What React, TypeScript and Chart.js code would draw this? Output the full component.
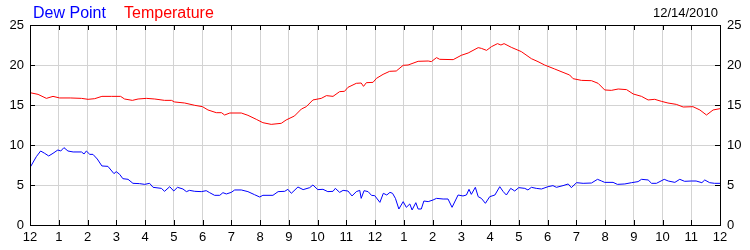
import React, { useEffect, useRef } from "react";
import { Chart, registerables } from "chart.js";

Chart.register(...registerables);

const hourLabels = ["12","1","2","3","4","5","6","7","8","9","10","11","12","1","2","3","4","5","6","7","8","9","10","11","12"];
const yTicks = [0, 5, 10, 15, 20, 25];
const dateText = "12/14/2010";
const dewName = "Dew Point";
const tempName = "Temperature";

const tempHours = [0,0.28,0.57,0.8,1.03,1.4,1.79,2.02,2.25,2.5,2.83,3.15,3.29,3.56,3.76,4.05,4.34,4.68,4.92,5.03,5.38,5.73,6,6.19,6.48,6.66,6.77,6.95,7.35,7.58,7.87,8.1,8.39,8.74,8.91,9.2,9.44,9.61,9.84,10.13,10.31,10.54,10.77,10.94,11.06,11.35,11.52,11.6,11.7,11.93,12.05,12.28,12.51,12.74,12.98,13.15,13.5,13.85,13.96,14.14,14.25,14.72,15,15.24,15.59,15.7,15.88,16.05,16.26,16.38,16.49,16.74,17.09,17.44,17.67,17.9,18.25,18.54,18.77,18.89,19.18,19.53,19.76,19.99,20.22,20.46,20.75,20.98,21.27,21.5,21.73,21.96,22.19,22.48,22.72,23.06,23.3,23.53,23.76,24];
const tempValues = [16.54,16.33,15.83,16.08,15.88,15.88,15.83,15.71,15.79,16.08,16.08,16.08,15.75,15.58,15.75,15.83,15.75,15.58,15.58,15.38,15.25,14.96,14.79,14.38,14.04,14.04,13.75,14.0,14.0,13.71,13.21,12.79,12.58,12.71,13.13,13.63,14.5,14.79,15.63,15.83,16.17,16.08,16.67,16.71,17.21,17.71,17.75,17.33,17.79,17.83,18.33,18.83,19.21,19.25,19.96,20.0,20.46,20.5,20.42,20.92,20.71,20.67,21.21,21.5,22.17,22.08,21.83,22.29,22.67,22.5,22.67,22.21,21.67,20.79,20.42,20.0,19.5,19.08,18.75,18.29,18.08,18.04,17.71,16.88,16.83,17.0,16.92,16.38,16.08,15.63,15.71,15.46,15.25,15.08,14.75,14.79,14.38,13.75,14.38,14.54];

const dewHours = [0.02,0.22,0.37,0.51,0.65,0.8,0.97,1.07,1.18,1.32,1.5,1.79,1.88,1.96,2.08,2.19,2.34,2.5,2.71,2.92,3.0,3.12,3.23,3.41,3.58,3.81,3.99,4.16,4.28,4.57,4.68,4.86,5.0,5.13,5.32,5.44,5.55,5.73,5.96,6.13,6.25,6.42,6.6,6.71,6.83,7.0,7.12,7.35,7.58,7.81,7.99,8.1,8.45,8.63,8.86,8.97,9.09,9.32,9.5,9.73,9.84,10.01,10.19,10.36,10.54,10.62,10.77,10.89,11.06,11.2,11.35,11.47,11.52,11.62,11.76,11.88,11.99,12.17,12.29,12.41,12.52,12.61,12.71,12.83,12.98,13.09,13.21,13.29,13.42,13.5,13.61,13.7,13.85,14.02,14.14,14.37,14.54,14.68,14.89,15.06,15.18,15.27,15.35,15.49,15.59,15.7,15.84,15.99,16.17,16.34,16.46,16.57,16.72,16.86,17.0,17.21,17.32,17.44,17.61,17.79,18.02,18.19,18.31,18.54,18.72,18.83,19.01,19.24,19.53,19.74,19.88,19.99,20.28,20.43,20.69,20.92,21.15,21.27,21.5,21.62,21.79,22.06,22.2,22.43,22.6,22.77,23.0,23.17,23.37,23.47,23.64,23.81,24];
const dewValues = [7.29,8.54,9.25,8.96,8.63,8.96,9.38,9.25,9.67,9.25,9.13,9.13,8.88,9.25,8.83,8.83,8.25,7.38,7.33,6.42,6.67,6.33,5.79,5.71,5.21,5.17,5.08,5.21,4.71,4.58,4.21,4.79,4.25,4.71,4.5,4.17,4.33,4.21,4.17,4.29,4.04,3.71,3.71,4.04,3.88,4.08,4.38,4.38,4.17,3.79,3.5,3.71,3.71,4.17,4.21,4.46,3.96,4.75,4.42,4.67,5.0,4.42,4.46,4.17,4.21,4.58,4.08,4.33,4.25,3.63,4.17,4.33,3.33,4.29,4.17,3.7,3.67,2.83,3.96,3.75,4.08,3.96,3.33,2.0,2.92,2.21,2.63,1.88,2.79,2.0,2.0,3.0,2.92,3.13,3.33,3.25,3.25,2.21,3.75,3.63,3.75,4.46,3.83,4.71,3.54,3.33,2.71,3.54,3.75,4.79,4.17,3.75,4.58,4.25,4.67,4.58,4.38,4.71,4.58,4.5,4.79,4.92,4.71,4.92,5.13,4.67,5.29,5.21,5.25,5.71,5.5,5.33,5.33,5.08,5.13,5.29,5.42,5.71,5.63,5.21,5.21,5.71,5.5,5.33,5.71,5.46,5.5,5.5,5.29,5.63,5.29,5.21,5.21];

const FONT = '"Liberation Sans", Arial, sans-serif';

const framePlugin = {
  id: "frame",
  afterDraw(chart: any) {
    const { ctx, chartArea } = chart;
    const { left, right, top, bottom } = chartArea;
    const xs = chart.scales.x;
    const ys = chart.scales.y;
    ctx.save();
    ctx.strokeStyle = "#000";
    ctx.lineWidth = 1;
    ctx.beginPath();
    for (let i = 1; i < hourLabels.length - 1; i++) {
      const px = Math.round(xs.getPixelForValue(i)) + 0.5;
      ctx.moveTo(px, bottom);
      ctx.lineTo(px, bottom - 5);
      ctx.moveTo(px, top);
      ctx.lineTo(px, top + 5);
    }
    for (let i = 1; i < yTicks.length - 1; i++) {
      const py = Math.round(ys.getPixelForValue(yTicks[i])) + 0.5;
      ctx.moveTo(left, py);
      ctx.lineTo(left + 5, py);
      ctx.moveTo(right, py);
      ctx.lineTo(right - 5, py);
    }
    ctx.stroke();
    ctx.strokeRect(Math.round(left) + 0.5, Math.round(top) + 0.5, Math.round(right - left), Math.round(bottom - top));
    ctx.font = "16px " + FONT;
    ctx.textBaseline = "alphabetic";
    ctx.textAlign = "left";
    ctx.fillStyle = "#0000ff";
    ctx.fillText(dewName, 33, 18);
    ctx.fillStyle = "#ff0000";
    ctx.fillText(tempName, 124, 18);
    ctx.font = "13px " + FONT;
    ctx.fillStyle = "#000";
    ctx.textAlign = "right";
    ctx.fillText(dateText, 718, 17);
    ctx.restore();
  },
};

export default function App() {
  const ref = useRef<HTMLCanvasElement | null>(null);
  useEffect(() => {
    if (!ref.current) return;
    const tempData = tempHours.map((h, i) => ({ x: h, y: tempValues[i] }));
    const dewData = dewHours.map((h, i) => ({ x: h, y: dewValues[i] }));
    const tickFont = { family: FONT, size: 13 };
    const chart = new Chart(ref.current, {
      type: "line",
      data: {
        datasets: [
          { label: dewName, data: dewData, borderColor: "#0000ff", borderWidth: 1, pointRadius: 0, tension: 0, fill: false, yAxisID: "y" },
          { label: tempName, data: tempData, borderColor: "#ff0000", borderWidth: 1, pointRadius: 0, tension: 0, fill: false, yAxisID: "y" },
        ],
      },
      options: {
        responsive: false,
        animation: false,
        layout: { padding: { top: 25, left: 0, right: 0, bottom: 0 } },
        plugins: { legend: { display: false }, tooltip: { enabled: false }, title: { display: false } },
        scales: {
          x: {
            type: "linear",
            position: "bottom",
            min: 0,
            max: 24,
            grid: { color: "#d3d3d3", drawTicks: false },
            border: { display: false },
            afterFit: (s: any) => { s.height = 25; },
            ticks: {
              stepSize: 1,
              autoSkip: false,
              maxRotation: 0,
              padding: 5,
              color: "#000",
              font: tickFont,
              callback: (v: any) => hourLabels[Math.round(Number(v))] ?? "",
            },
          },
          y: {
            position: "left",
            min: 0,
            max: 25,
            grid: { color: "#d3d3d3", drawTicks: false },
            border: { display: false },
            afterFit: (s: any) => { s.width = 30; },
            ticks: { stepSize: 5, padding: 6, color: "#000", font: tickFont },
          },
          y2: {
            position: "right",
            min: 0,
            max: 25,
            grid: { display: false, drawTicks: false },
            border: { display: false },
            afterFit: (s: any) => { s.width = 30; },
            ticks: { stepSize: 5, padding: 7, color: "#000", font: tickFont },
          },
        },
      },
      plugins: [framePlugin],
    } as any);
    return () => chart.destroy();
  }, []);
  return (
    <div style={{ position: "absolute", left: 0, top: 0, width: 750, height: 250, background: "#fff" }}>
      <canvas ref={ref} width={750} height={250} style={{ display: "block" }} />
    </div>
  );
}
